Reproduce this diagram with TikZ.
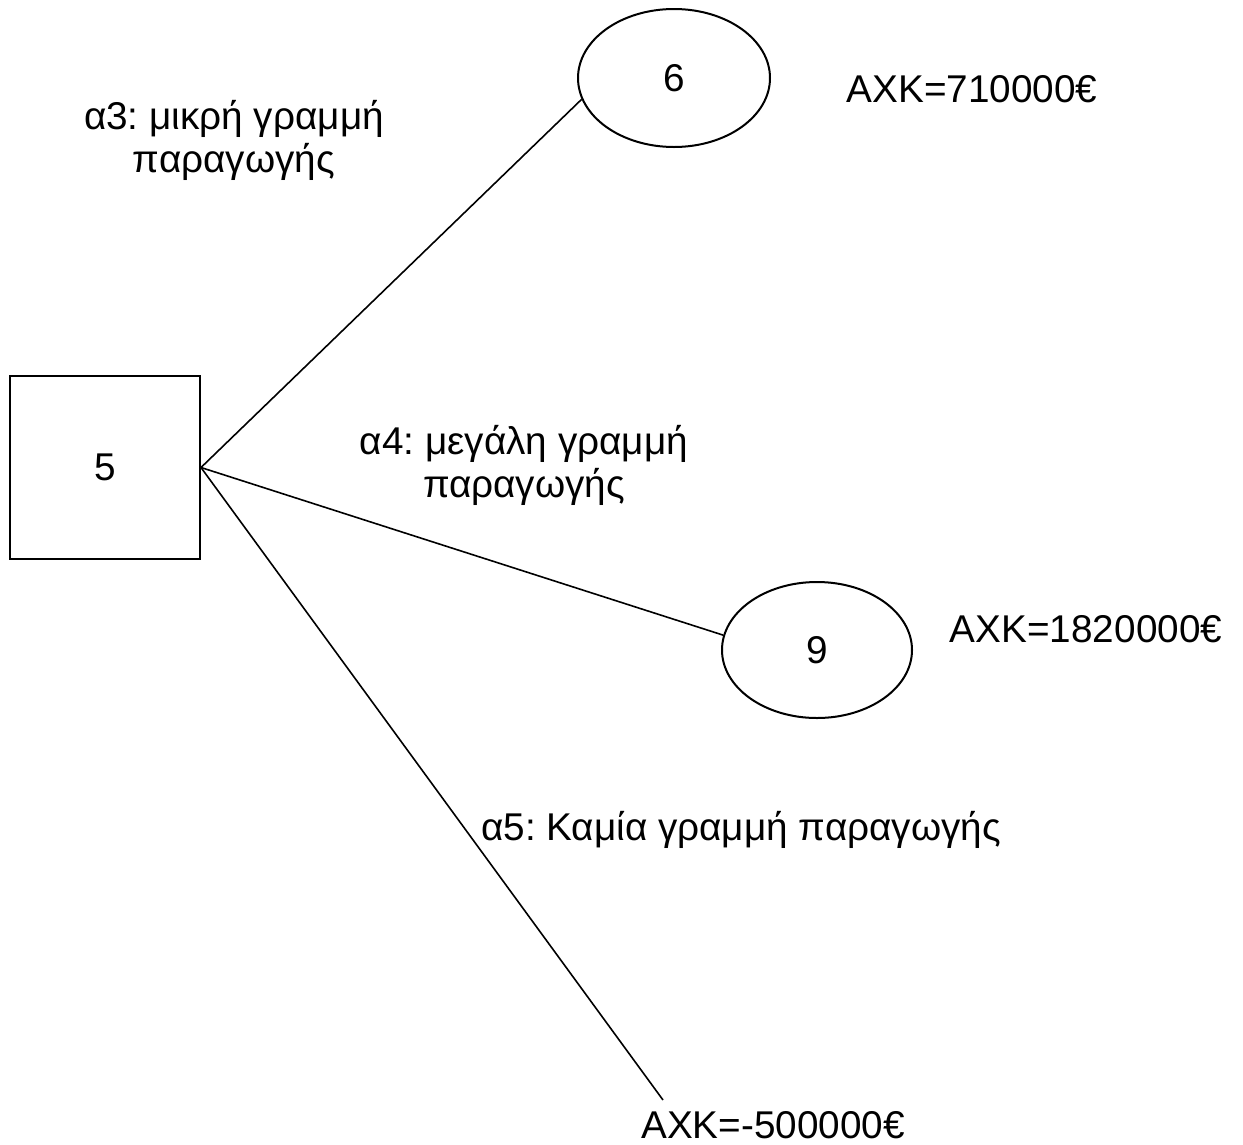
\documentclass[tikz,border=0pt]{standalone}
\usepackage{fontspec}
\setmainfont{Liberation Sans}
\frenchspacing
\usetikzlibrary{shapes.geometric}
\begin{document}
\begin{tikzpicture}[x=1pt,y=-1pt,
  every node/.style={font=\fontsize{38.7}{42.5}\selectfont\frenchspacing, inner sep=0pt},
  decision/.style={draw, line width=2pt, minimum width=190pt, minimum height=183pt},
  chance/.style={draw, ellipse, line width=2pt},
  edge/.style={line width=1.6pt},
  lbl/.style={align=center, anchor=base}]
\useasboundingbox (0,0) rectangle (1243,1144);
\node[decision] (s5) at (105,467.5) {};
\node (t5) at (105,467) {5};
\node[chance, minimum width=192pt, minimum height=138pt] (e6) at (674,78) {};
\node (t6) at (674,78) {6};
\node[chance, minimum width=190pt, minimum height=136pt] (e9) at (817,650) {};
\node (t9) at (817,650) {9};
\coordinate (end5) at (663,1100);
\draw[edge] (s5.east) -- (e6.193);
\draw[edge] (s5.east) -- (e9.171);
\draw[edge] (s5.east) -- (end5);
\node[lbl] (l3) at (234,172) {α3: μικρή γραμμή\\παραγωγής};
\node[lbl] (l4) at (524,497) {α4: μεγάλη γραμμή\\παραγωγής};
\node[lbl] (l5) at (741,840) {α5: Καμία γραμμή παραγωγής};
\node[lbl] (v6) at (972,102) {AXK=710000€};
\node[lbl] (v9) at (1086,642) {AXK=1820000€};
\node[lbl] (v5) at (773,1138) {AXK=-500000€};
\end{tikzpicture}
\end{document}
